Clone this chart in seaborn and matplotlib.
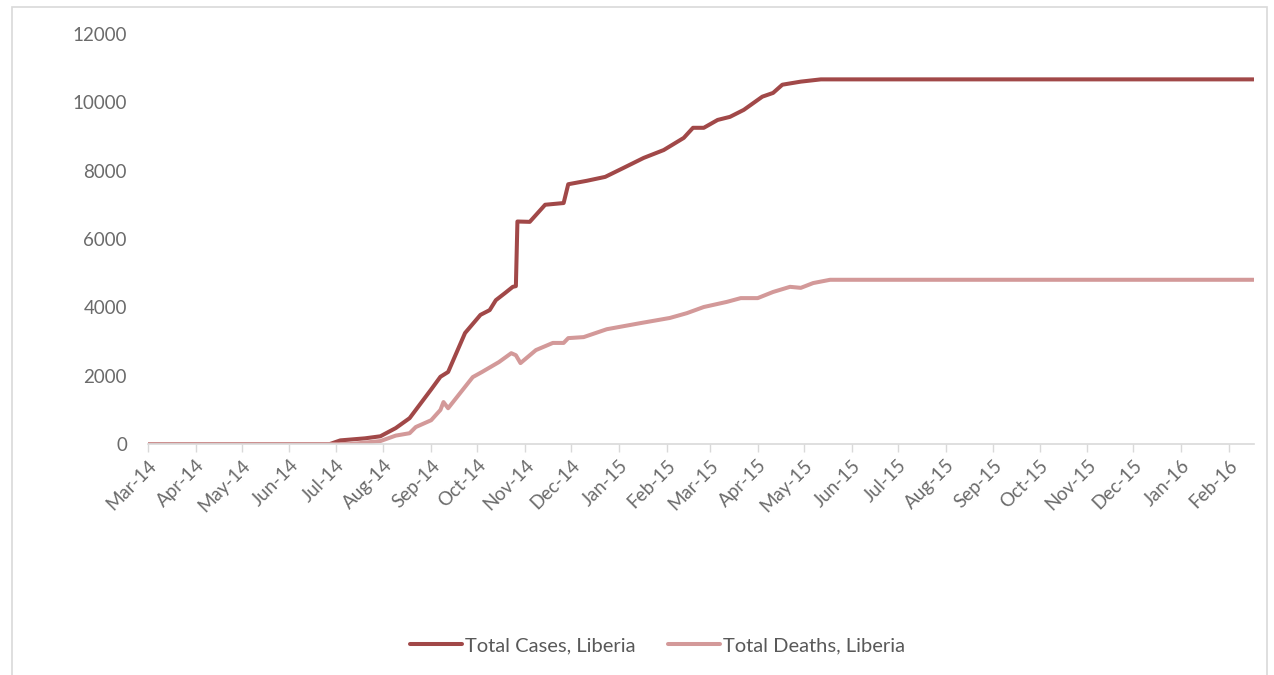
import pandas as pd
import matplotlib
matplotlib.use("Agg")
import matplotlib.pyplot as plt
import matplotlib.dates as mdates
from matplotlib.patches import Rectangle
import seaborn as sns

# Cumulative cases, Liberia
case_dates = [
    "2014-03-01", "2014-06-27", "2014-07-04", "2014-07-20", "2014-07-30",
    "2014-08-09", "2014-08-18", "2014-08-22", "2014-09-01", "2014-09-07",
    "2014-09-12", "2014-09-23", "2014-10-03", "2014-10-09", "2014-10-13",
    "2014-10-19", "2014-10-24", "2014-10-26", "2014-10-27", "2014-11-04",
    "2014-11-14", "2014-11-26", "2014-11-29", "2014-12-11", "2014-12-23",
    "2015-01-04", "2015-01-17", "2015-01-30", "2015-02-12", "2015-02-18",
    "2015-02-25", "2015-03-06", "2015-03-14", "2015-03-23", "2015-04-04",
    "2015-04-11", "2015-04-17", "2015-04-29", "2015-05-12", "2016-02-17",
]
case_values = [
    0, 0, 110, 170, 230,
    470, 760, 1000, 1600, 1970,
    2110, 3250, 3780, 3920, 4210,
    4420, 4600, 4620, 6510, 6500,
    7000, 7050, 7600, 7700, 7815,
    8080, 8370, 8600, 8955, 9250,
    9250, 9480, 9570, 9775, 10160,
    10270, 10510, 10600, 10666, 10666,
]

# Cumulative deaths, Liberia
death_dates = [
    "2014-03-01", "2014-07-10", "2014-07-30", "2014-08-09", "2014-08-18",
    "2014-08-22", "2014-09-01", "2014-09-07", "2014-09-09", "2014-09-12",
    "2014-09-28", "2014-10-04", "2014-10-15", "2014-10-23", "2014-10-26",
    "2014-10-29", "2014-11-08", "2014-11-19", "2014-11-26", "2014-11-29",
    "2014-12-09", "2014-12-24", "2015-01-15", "2015-02-03", "2015-02-14",
    "2015-02-25", "2015-03-12", "2015-03-21", "2015-04-01", "2015-04-11",
    "2015-04-22", "2015-04-29", "2015-05-07", "2015-05-18", "2016-02-17",
]
death_values = [
    0, 0, 90, 250, 320,
    500, 700, 1000, 1230, 1050,
    1960, 2110, 2400, 2660, 2600,
    2370, 2750, 2960, 2960, 3100,
    3130, 3360, 3540, 3690, 3830,
    4010, 4160, 4270, 4270, 4450,
    4600, 4570, 4710, 4806, 4806,
]

cases = pd.DataFrame({"date": pd.to_datetime(case_dates), "value": case_values})
deaths = pd.DataFrame({"date": pd.to_datetime(death_dates), "value": death_values})

sns.set_style("white")
plt.rcParams["font.family"] = ["Lato", "DejaVu Sans"]

fig = plt.figure(figsize=(12.74, 6.75), dpi=100)
ax = fig.add_axes([0.116, 0.342, 0.868, 0.608])

sns.lineplot(data=cases, x="date", y="value", ax=ax, color="#A14848",
             linewidth=2.9, label="Total Cases, Liberia")
sns.lineplot(data=deaths, x="date", y="value", ax=ax, color="#D39999",
             linewidth=2.9, label="Total Deaths, Liberia")

ax.set_xlim(pd.Timestamp("2014-03-01"), pd.Timestamp("2016-02-17"))
ax.set_ylim(0, 12000)
ax.set_yticks(range(0, 12001, 2000))
ax.xaxis.set_major_locator(mdates.MonthLocator())
ax.xaxis.set_major_formatter(mdates.DateFormatter("%b-%y"))
ax.set_xlabel("")
ax.set_ylabel("")

for side in ["top", "right", "left"]:
    ax.spines[side].set_visible(False)
ax.spines["bottom"].set_color("#d9d9d9")
ax.spines["bottom"].set_linewidth(1.2)

ax.tick_params(axis="x", which="major", length=6, width=1, color="#d9d9d9",
               labelsize=13.5, labelcolor="#6b6b6b", pad=3, bottom=True)
ax.tick_params(axis="y", length=0, labelsize=13.5, labelcolor="#6b6b6b", pad=15)
for lbl in ax.get_xticklabels():
    lbl.set_rotation(45)
    lbl.set_ha("right")
    lbl.set_rotation_mode("anchor")

ax.legend_.remove()
handles, labels = ax.get_legend_handles_labels()
leg = fig.legend(handles, labels, loc="center", bbox_to_anchor=(0.516, 0.043),
                 ncol=2, frameon=False, handlelength=2.6, handletextpad=0.15,
                 columnspacing=1.6, fontsize=14.5)
for txt in leg.get_texts():
    txt.set_color("#595959")

# chart area border
fig.patches.append(Rectangle((12 / 1274, -0.02), 1255 / 1274, 1.02 - 7 / 675,
                             transform=fig.transFigure, fill=False,
                             edgecolor="#d9d9d9", linewidth=1.2))

fig.savefig("out.png", dpi=100)
